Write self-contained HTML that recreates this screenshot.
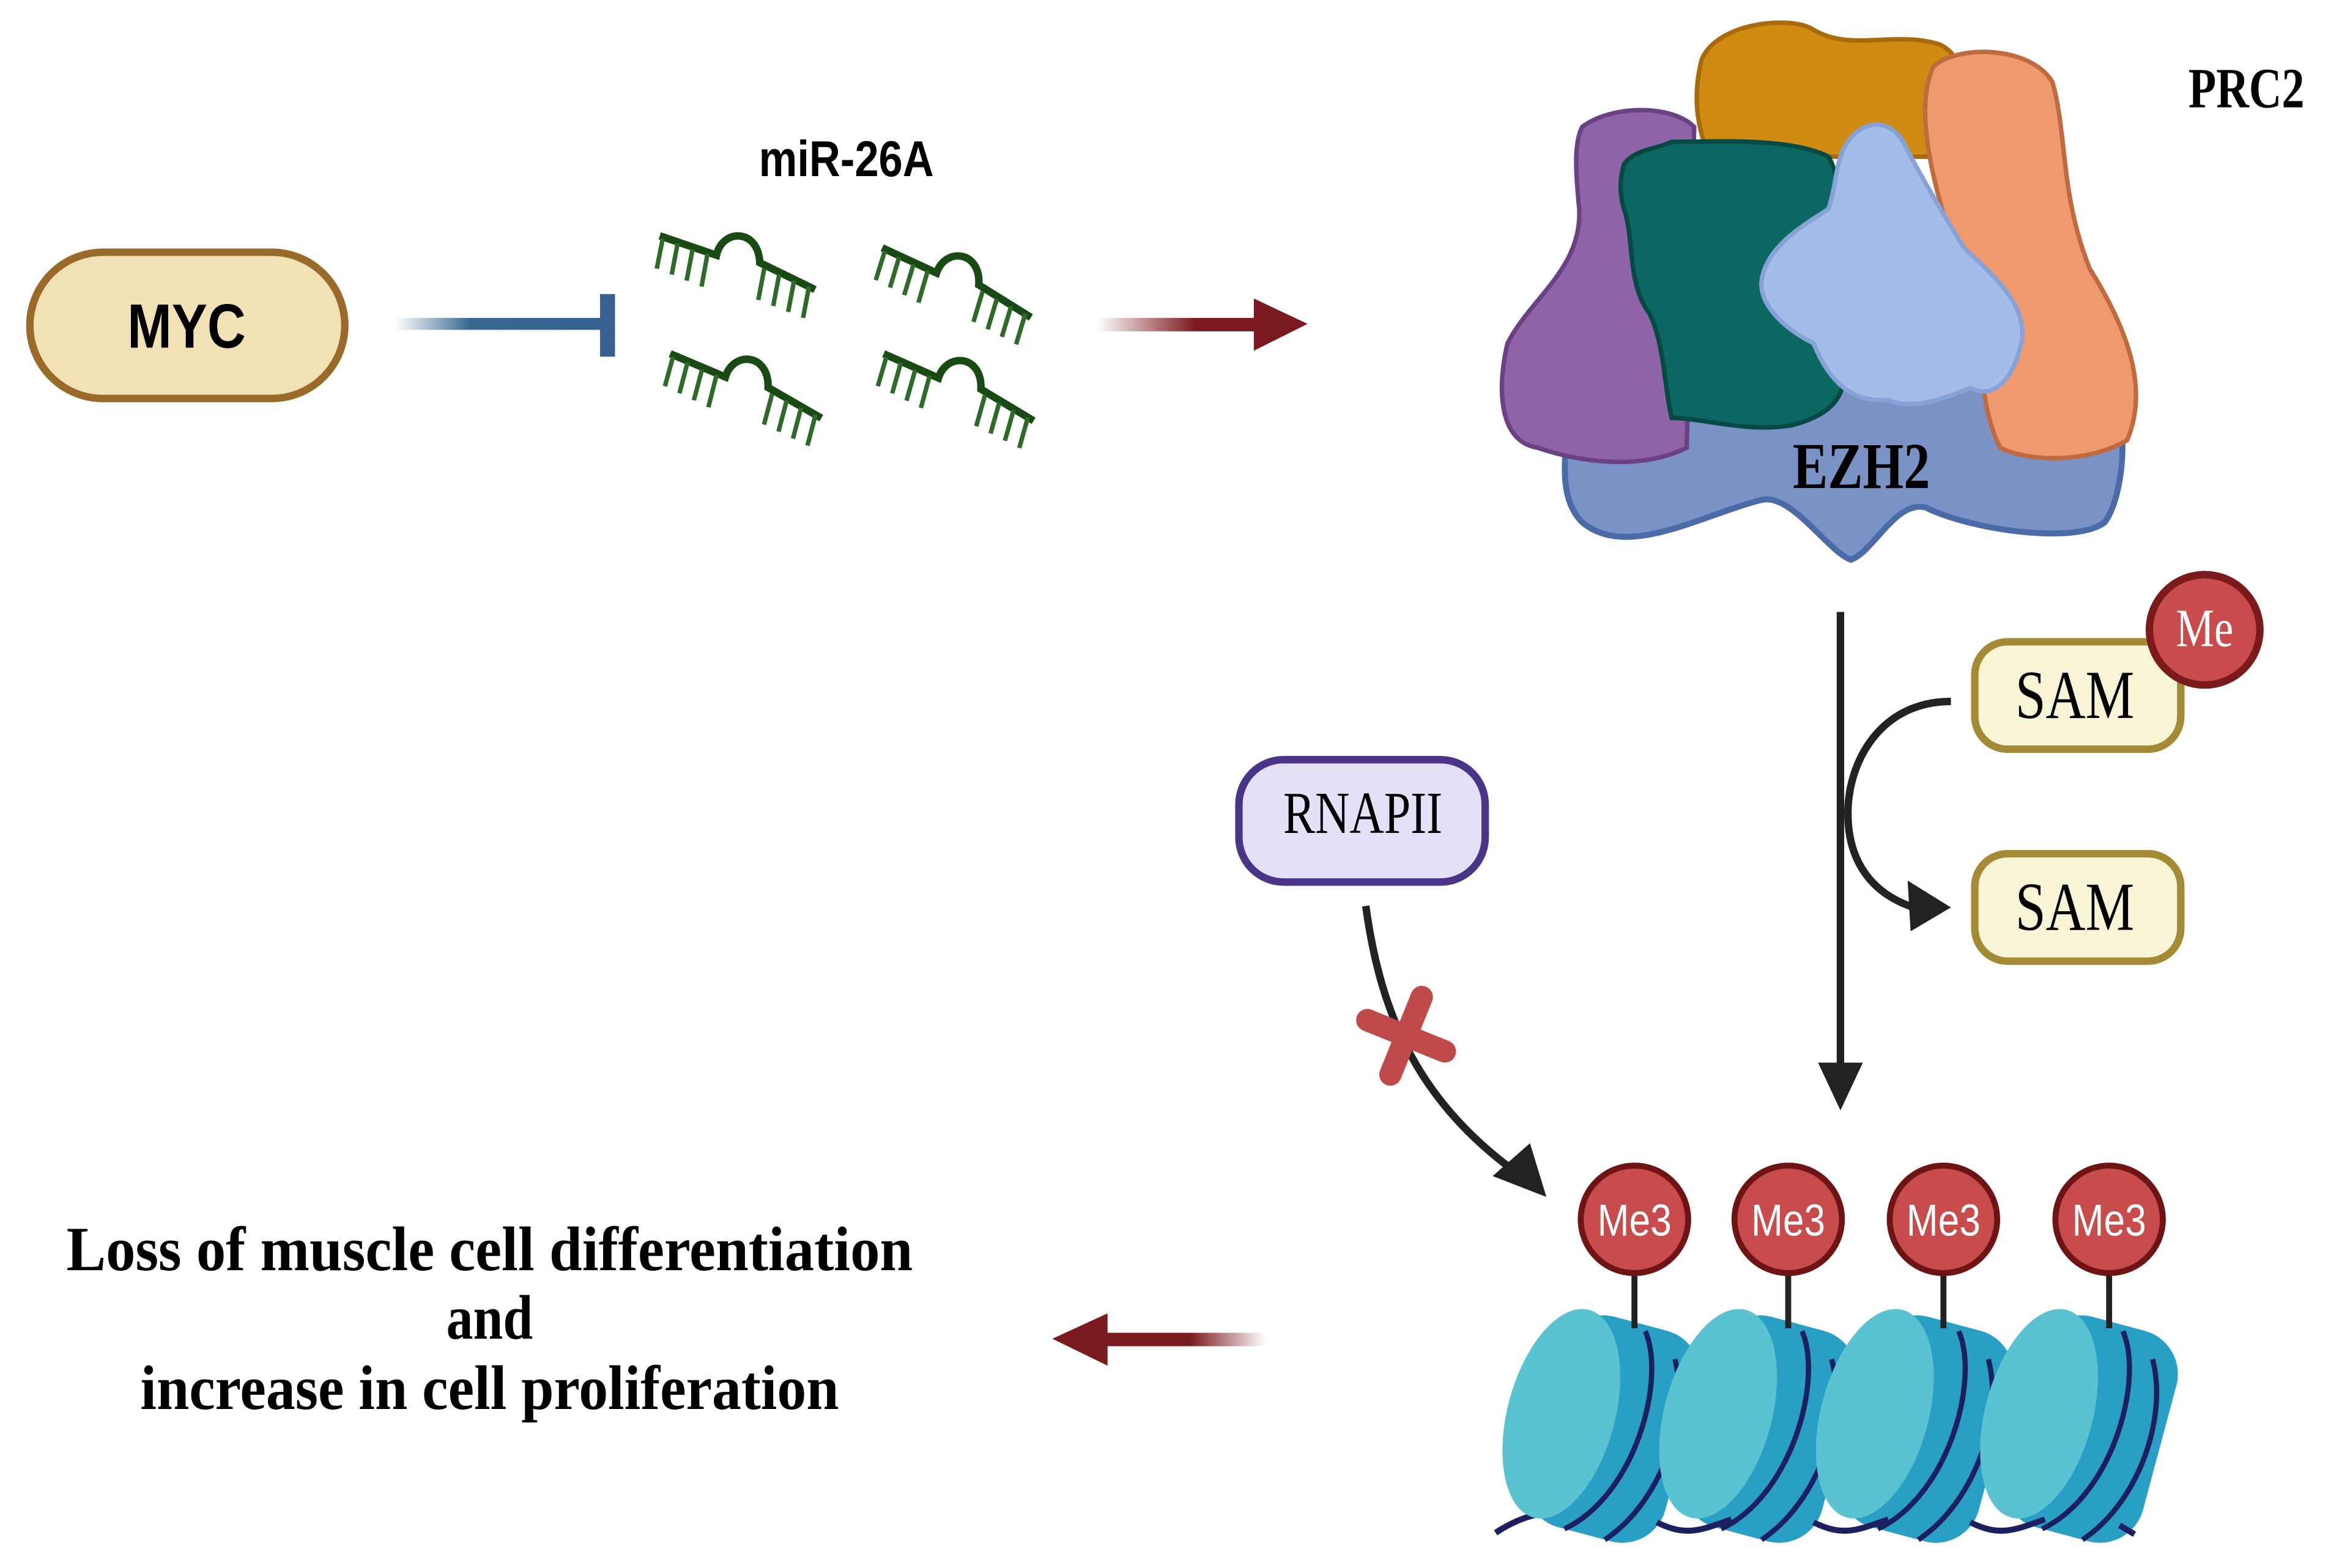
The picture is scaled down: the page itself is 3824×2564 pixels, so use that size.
<!DOCTYPE html>
<html><head><meta charset="utf-8"><style>html,body{margin:0;padding:0;background:#fff}svg{display:block}</style></head>
<body>
<svg xmlns="http://www.w3.org/2000/svg" width="3824" height="2564" viewBox="0 0 1567 1050.6" preserveAspectRatio="none">
<defs>
<linearGradient id="gb" x1="0" x2="1"><stop offset="0" stop-color="#3a6890" stop-opacity="0"/><stop offset="0.35" stop-color="#3a6890"/><stop offset="1" stop-color="#356090"/></linearGradient>
<linearGradient id="gr" x1="0" x2="1"><stop offset="0" stop-color="#7a1a1e" stop-opacity="0"/><stop offset="0.6" stop-color="#7a1a1e"/><stop offset="1" stop-color="#7a1a1e"/></linearGradient>
<linearGradient id="gl" x1="1" x2="0"><stop offset="0" stop-color="#7a1a1e" stop-opacity="0"/><stop offset="0.45" stop-color="#7a1a1e"/><stop offset="1" stop-color="#7a1a1e"/></linearGradient>
<g id="mir">
<path d="M0,0 L38,13 C42,-5 66,-5 67,18 L104,36" fill="none" stroke="#1a4a14" stroke-width="5"/>
<g stroke="#2e6a2a" stroke-width="3">
<line x1="2" y1="2" x2="-2" y2="22"/><line x1="12" y1="5" x2="8" y2="26"/><line x1="22" y1="9" x2="18" y2="30"/><line x1="32" y1="12" x2="28" y2="34"/>
<line x1="70" y1="22" x2="66" y2="43"/><line x1="80" y1="26" x2="76" y2="47"/><line x1="90" y1="30" x2="86" y2="51"/><line x1="100" y1="34" x2="96" y2="55"/>
</g></g>
<g id="nuc">
<rect x="-42" y="-72" width="96" height="146" rx="30" fill="#2a9fc6"/>
<ellipse cx="-30" cy="0" rx="36" ry="72" fill="#5bc2d2"/>
<path d="M10,-68 C32,-40 32,40 -8,74" fill="none" stroke="#1a2060" stroke-width="3.5"/>
<path d="M34,-55 C54,-20 50,40 20,74" fill="none" stroke="#1a2060" stroke-width="3.5"/>
</g>
</defs>

<rect x="20" y="169" width="211" height="98" rx="49" fill="#f1e1b5" stroke="#9a6a2a" stroke-width="5"/>
<text transform="translate(125,233) scale(0.85,1)" font-family="Liberation Sans, sans-serif" font-weight="bold" font-size="42" text-anchor="middle" fill="#000">MYC</text>
<rect x="265" y="213" width="142" height="8" fill="url(#gb)"/>
<rect x="402" y="197" width="10" height="42" fill="#356090"/>

<text transform="translate(567,118) scale(0.85,1)" font-family="Liberation Sans, sans-serif" font-weight="bold" font-size="34" text-anchor="middle">miR-26A</text>
<use href="#mir" transform="translate(442,158)"/>
<use href="#mir" transform="translate(591,166) rotate(6)"/>
<use href="#mir" transform="translate(449,237) rotate(4)"/>
<use href="#mir" transform="translate(592,237) rotate(5)"/>

<rect x="735" y="213" width="110" height="9" fill="url(#gr)"/>
<polygon points="840,200 876,217 840,235" fill="#7a1a1e"/>

<text transform="translate(1505,72) scale(0.8,1)" font-family="Liberation Serif, serif" font-weight="bold" font-size="38" text-anchor="middle">PRC2</text>
<path d="M1050,290 C1040,250 1060,230 1120,235 L1400,240 C1430,260 1425,330 1410,350 C1390,365 1320,355 1290,340 C1270,335 1255,370 1240,375 C1225,370 1200,330 1180,335 C1140,345 1090,375 1060,350 C1045,335 1048,310 1050,290 Z" fill="#7a92c6" stroke="#4a6aa8" stroke-width="4"/>
<path d="M1140,40 C1150,15 1200,10 1215,20 C1240,35 1270,20 1300,30 C1320,40 1325,80 1315,105 L1145,105 C1135,80 1135,60 1140,40 Z" fill="#d08c12" stroke="#a86a0a" stroke-width="3"/>
<path d="M1060,85 C1080,70 1120,70 1135,85 L1130,300 C1100,315 1060,310 1030,300 C1000,295 1005,250 1010,230 C1025,200 1060,180 1058,140 C1055,110 1055,95 1060,85 Z" fill="#8e64a6" stroke="#6a4284" stroke-width="3"/>
<path d="M1295,45 C1310,30 1360,30 1375,55 C1385,90 1380,130 1400,180 C1425,220 1440,260 1425,295 C1400,310 1360,310 1340,300 C1325,270 1330,240 1320,200 C1300,140 1280,80 1295,45 Z" fill="#f0986e" stroke="#c06a40" stroke-width="3"/>
<path d="M1088,110 C1095,100 1110,100 1120,95 C1150,95 1200,92 1225,105 C1240,130 1230,200 1235,240 C1240,270 1220,280 1200,285 C1170,290 1140,280 1120,280 C1115,260 1115,230 1105,210 C1090,190 1095,160 1088,140 C1085,130 1085,120 1088,110 Z" fill="#0c6662" stroke="#064844" stroke-width="3"/>
<path d="M1235,100 C1245,80 1265,78 1275,95 C1285,115 1300,140 1315,165 C1335,185 1355,200 1355,225 C1350,255 1335,268 1320,260 C1300,268 1280,275 1265,268 C1240,270 1225,255 1215,230 C1195,220 1180,205 1180,190 C1182,165 1210,150 1225,140 C1230,125 1230,110 1235,100 Z" fill="#a6bce8" stroke="#86a2d6" stroke-width="3"/>
<text transform="translate(1247,327) scale(0.8,1)" font-family="Liberation Serif, serif" font-weight="bold" font-size="44" text-anchor="middle">EZH2</text>

<line x1="1233" y1="410" x2="1233" y2="720" stroke="#222" stroke-width="5"/>
<polygon points="1218,712 1248,712 1233,744" fill="#222"/>
<path d="M1307,470 C1260,470 1238,510 1238,545 C1238,575 1252,598 1282,608" fill="none" stroke="#222" stroke-width="5"/>
<polygon points="1307,608 1278,590 1280,624" fill="#222"/>
<rect x="1323" y="430" width="138" height="72" rx="22" fill="#f8f4d6" stroke="#a48a34" stroke-width="5"/>
<text transform="translate(1390,481) scale(0.8,1)" font-family="Liberation Serif, serif" font-size="46" text-anchor="middle">SAM</text>
<circle cx="1477" cy="422" r="37" fill="#c84c4c" stroke="#7a1a1a" stroke-width="5"/>
<text transform="translate(1477,433) scale(0.8,1)" font-family="Liberation Serif, serif" font-size="36" text-anchor="middle" fill="#fff">Me</text>
<rect x="1323" y="572" width="138" height="72" rx="22" fill="#f8f4d6" stroke="#a48a34" stroke-width="5"/>
<text transform="translate(1390,623) scale(0.8,1)" font-family="Liberation Serif, serif" font-size="46" text-anchor="middle">SAM</text>

<rect x="830" y="509" width="165" height="82" rx="30" fill="#e3e0f7" stroke="#4a3488" stroke-width="5"/>
<text transform="translate(913,558) scale(0.8,1)" font-family="Liberation Serif, serif" font-size="40" text-anchor="middle">RNAPII</text>
<path d="M915,607 C925,680 950,740 1022,790" fill="none" stroke="#222" stroke-width="5"/>
<polygon points="1036,802 1000,788 1025,766" fill="#222"/>
<g transform="translate(942,694) rotate(22)" stroke="#bf4a4a" stroke-width="15" stroke-linecap="round">
<line x1="-28" y1="0" x2="28" y2="0"/><line x1="0" y1="-28" x2="0" y2="28"/>
</g>

<path d="M1002,1027 C1020,1015 1040,1010 1060,1015" fill="none" stroke="#1a2060" stroke-width="4"/>
<use href="#nuc" transform="translate(1075,955) rotate(15)"/>
<use href="#nuc" transform="translate(1180,955) rotate(15)"/>
<use href="#nuc" transform="translate(1285,955) rotate(15)"/>
<use href="#nuc" transform="translate(1395,955) rotate(15)"/>
<path d="M1110,1020 C1130,1030 1140,1025 1160,1018 M1215,1020 C1235,1030 1245,1025 1265,1018 M1320,1020 C1340,1030 1350,1025 1370,1018 M1420,1022 L1430,1028" fill="none" stroke="#1a2060" stroke-width="4"/>
<g stroke="#222" stroke-width="4">
<line x1="1095" y1="850" x2="1095" y2="890"/><line x1="1198" y1="850" x2="1198" y2="890"/><line x1="1302" y1="850" x2="1302" y2="890"/><line x1="1413" y1="850" x2="1413" y2="890"/>
</g>
<g fill="#c84c4c" stroke="#6e1414" stroke-width="4">
<circle cx="1095" cy="817" r="36"/><circle cx="1198" cy="817" r="36"/><circle cx="1302" cy="817" r="36"/><circle cx="1413" cy="817" r="36"/>
</g>
<g font-family="Liberation Sans, sans-serif" font-size="30" fill="#fff" text-anchor="middle">
<text transform="translate(1095,828) scale(0.85,1)">Me3</text><text transform="translate(1198,828) scale(0.85,1)">Me3</text><text transform="translate(1302,828) scale(0.85,1)">Me3</text><text transform="translate(1413,828) scale(0.85,1)">Me3</text>
</g>

<rect x="735" y="893" width="113" height="9" fill="url(#gl)"/>
<polygon points="742,880 705,897 742,915" fill="#7a1a1e"/>
<g font-family="Liberation Serif, serif" font-weight="bold" font-size="42" text-anchor="middle">
<text x="328" y="851" textLength="567" lengthAdjust="spacingAndGlyphs">Loss of muscle cell differentiation</text>
<text x="328" y="897" textLength="58" lengthAdjust="spacingAndGlyphs">and</text>
<text x="328" y="944" textLength="468" lengthAdjust="spacingAndGlyphs">increase in cell proliferation</text>
</g>
</svg>
</body></html>
